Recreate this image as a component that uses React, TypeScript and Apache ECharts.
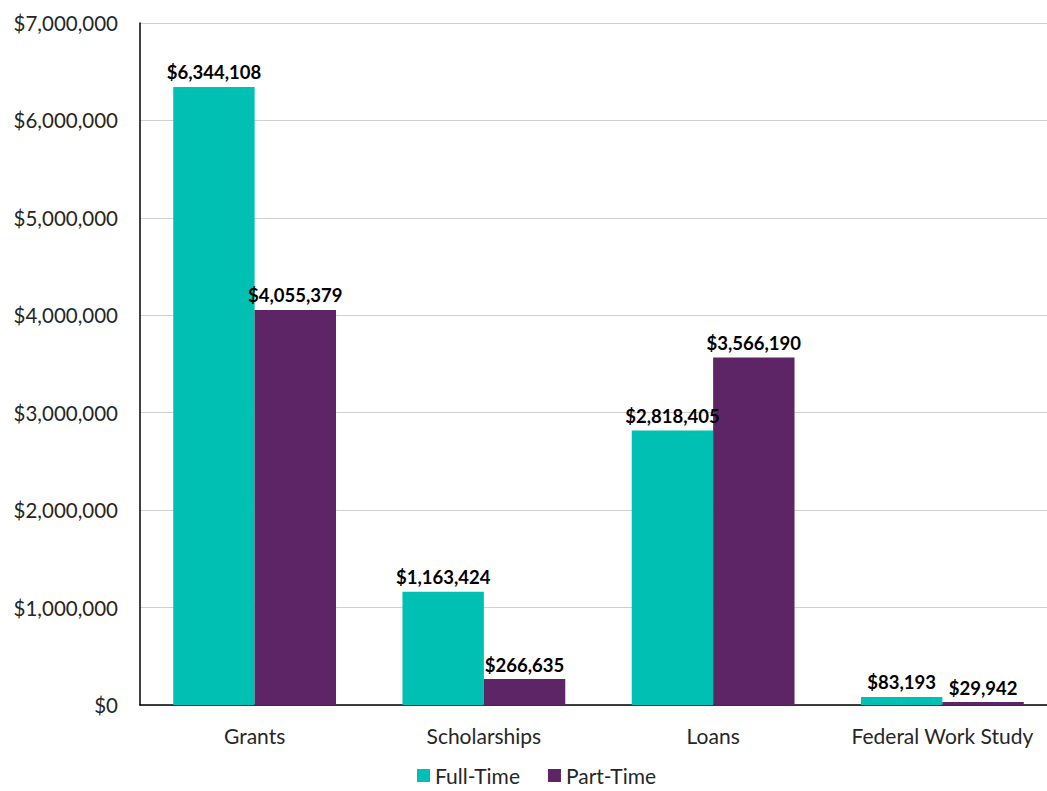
import React, { useEffect, useRef } from "react";
import * as echarts from "echarts";

const categories = ["Grants", "Scholarships", "Loans", "Federal Work Study"];
const fullTime = [6344108, 1163424, 2818405, 83193];
const partTime = [4055379, 266635, 3566190, 29942];
const seriesNames = ["Full-Time", "Part-Time"];

const FONT = "Lato";
const fmt = (v: number) => "$" + Math.round(v).toLocaleString("en-US");

export default function App() {
  const ref = useRef<HTMLDivElement>(null);
  useEffect(() => {
    document.body.style.overflow = "hidden";
    if (!ref.current) return;
    const chart = echarts.init(ref.current, null, { renderer: "svg" });
    const label = {
      show: true,
      position: "top" as const,
      distance: 5,
      fontFamily: FONT,
      fontWeight: "bold" as const,
      fontSize: 18.5,
      color: "#000",
      formatter: (p: any) => fmt(p.value),
    };
    chart.setOption({
      animation: false,
      backgroundColor: "#fff",
      textStyle: { fontFamily: FONT },
      grid: { left: 140, right: 0, top: 23, bottom: 86, containLabel: false },
      legend: {
        bottom: 0,
        left: 412,
        itemWidth: 13,
        itemHeight: 13,
        itemGap: 28,
        icon: "rect",
        textStyle: { fontFamily: FONT, fontSize: 21, color: "#262626" },
        data: seriesNames,
      },
      xAxis: {
        type: "category",
        data: categories,
        axisLine: { lineStyle: { color: "#000", width: 1.5 } },
        axisTick: { show: false },
        axisLabel: {
          interval: 0,
          fontFamily: FONT,
          fontSize: 21,
          color: "#262626",
          margin: 20,
        },
      },
      yAxis: {
        type: "value",
        min: 0,
        max: 7000000,
        interval: 1000000,
        axisLine: { show: true, lineStyle: { color: "#000", width: 1.5 } },
        axisTick: { show: false },
        splitLine: { lineStyle: { color: "#D0D0D0", width: 1 } },
        axisLabel: {
          fontFamily: FONT,
          fontSize: 20.5,
          color: "#262626",
          margin: 22,
          formatter: (v: number) => fmt(v),
        },
      },
      series: [
        {
          name: seriesNames[0],
          type: "bar",
          data: fullTime,
          barGap: "0%",
          barCategoryGap: "29%",
          itemStyle: { color: "#00BFB3" },
          label,
        },
        {
          name: seriesNames[1],
          type: "bar",
          data: partTime,
          barGap: "0%",
          barCategoryGap: "29%",
          itemStyle: { color: "#5E2566" },
          label,
        },
      ],
    });
    return () => chart.dispose();
  }, []);
  return (
    <div
      ref={ref}
      style={{ position: "fixed", left: 0, top: 0, width: 1057, height: 791 }}
    />
  );
}
